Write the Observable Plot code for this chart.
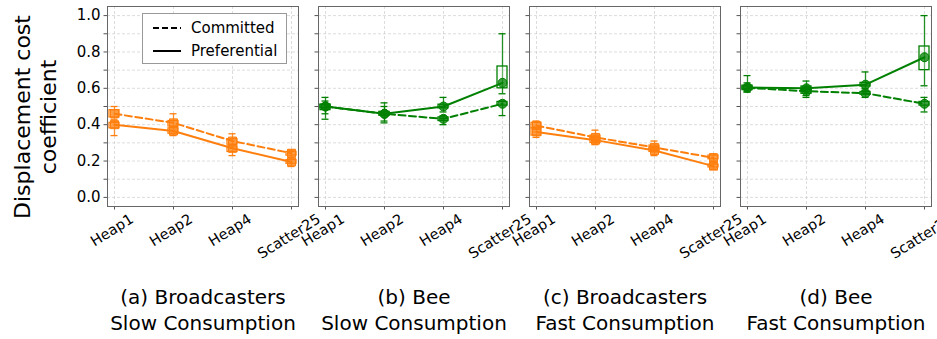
<!DOCTYPE html>
<html><head><meta charset="utf-8">
<script src="https://cdn.jsdelivr.net/npm/d3@7"></script>
<script src="https://cdn.jsdelivr.net/npm/@observablehq/plot@0.6"></script>
<style>
body{margin:0;background:#fff;font-family:"DejaVu Sans",sans-serif;}
#wrap{position:relative;width:937px;height:339px;overflow:hidden;}
#legend{position:absolute;left:142px;top:13px;width:143px;height:49px;border:1px solid #999;background:#fff;font-size:15px;color:#000;}
#legend .row{position:absolute;left:10px;height:20px;display:flex;align-items:center;}
#legend svg{margin-right:10px;}
#ylabel{position:absolute;left:36px;top:117px;transform:translate(-50%,-50%) rotate(-90deg);white-space:pre;text-align:center;font-size:22px;line-height:26px;color:#000;}
</style></head><body><div id="wrap"></div>
<script>
const panels = ["a", "b", "c", "d"];
const panelTitles = [
  "(a) Broadcasters\nSlow Consumption",
  "(b) Bee\nSlow Consumption",
  "(c) Broadcasters\nFast Consumption",
  "(d) Bee\nFast Consumption"
];
const panelGroups = ["Broadcasters", "Bee", "Broadcasters", "Bee"];
const categories = ["Heap1", "Heap2", "Heap4", "Scatter25"];
const series = ["Committed", "Preferential"];
const yTitle = "Displacement cost\ncoefficient";
const yTickLabels = [0.0, 0.2, 0.4, 0.6, 0.8, 1.0];
const yMinorTicks = [0.0, 0.1, 0.2, 0.3, 0.4, 0.5, 0.6, 0.7, 0.8, 0.9, 1.0];

// [panel][category]
const committedMed = [[0.46, 0.41, 0.31, 0.243], [0.50, 0.46, 0.432, 0.515], [0.395, 0.33, 0.275, 0.218], [0.603, 0.584, 0.573, 0.515]];
const committedQ1  = [[0.44, 0.39, 0.29, 0.23],  [0.48, 0.45, 0.42, 0.505],  [0.38, 0.32, 0.26, 0.21],    [0.59, 0.57, 0.565, 0.505]];
const committedQ3  = [[0.48, 0.42, 0.32, 0.25],  [0.51, 0.47, 0.44, 0.525],  [0.41, 0.34, 0.285, 0.23],   [0.61, 0.595, 0.58, 0.525]];
const committedLo  = [[0.43, 0.37, 0.27, 0.22],  [0.46, 0.41, 0.40, 0.45],   [0.36, 0.30, 0.25, 0.20],    [0.58, 0.55, 0.55, 0.47]];
const committedHi  = [[0.50, 0.46, 0.35, 0.26],  [0.53, 0.50, 0.45, 0.53],   [0.42, 0.37, 0.31, 0.24],    [0.63, 0.61, 0.59, 0.55]];

const preferentialMed = [[0.40, 0.365, 0.27, 0.195], [0.50, 0.46, 0.50, 0.63], [0.36, 0.315, 0.258, 0.172], [0.605, 0.60, 0.62, 0.771]];
const preferentialQ1  = [[0.38, 0.35, 0.25, 0.185],  [0.49, 0.45, 0.49, 0.60], [0.34, 0.30, 0.25, 0.165],   [0.595, 0.59, 0.61, 0.70]];
const preferentialQ3  = [[0.41, 0.38, 0.28, 0.205],  [0.51, 0.47, 0.51, 0.72], [0.38, 0.325, 0.27, 0.18],   [0.615, 0.61, 0.63, 0.83]];
const preferentialLo  = [[0.34, 0.34, 0.23, 0.17],   [0.43, 0.42, 0.47, 0.57], [0.33, 0.29, 0.23, 0.155],   [0.58, 0.56, 0.60, 0.614]];
const preferentialHi  = [[0.42, 0.39, 0.29, 0.21],   [0.55, 0.52, 0.55, 0.90], [0.39, 0.33, 0.28, 0.19],    [0.67, 0.64, 0.69, 1.00]];

const stats = {
  Committed: [committedMed, committedQ1, committedQ3, committedLo, committedHi],
  Preferential: [preferentialMed, preferentialQ1, preferentialQ3, preferentialLo, preferentialHi]
};
const rows = [];
panels.forEach((p, pi) => categories.forEach((c, ci) => series.forEach(s => {
  const [m, q1, q3, lo, hi] = stats[s];
  rows.push({panel: p, group: panelGroups[pi], category: c, series: s,
    med: m[pi][ci], q1: q1[pi][ci], q3: q3[pi][ci], lo: lo[pi][ci], hi: hi[pi][ci]});
})));
const labelRows = panels.flatMap(p => categories.map(c => ({panel: p, category: c})));

// matplotlib-like centered rotated tick labels: top of rotated bbox just under the axis
const xFont = 14.5;
const xAngle = 32;
const ctx = document.createElement("canvas").getContext("2d");
ctx.font = `${xFont}px 'DejaVu Sans'`;
const ang = xAngle * Math.PI / 180;
const xLabelMarks = categories.map(c => {
  const w = ctx.measureText(c).width;
  const H = w * Math.sin(ang) + xFont * 1.17 * Math.cos(ang);
  return Plot.text(labelRows.filter(d => d.category === c), {
    fx: "panel", x: "category", text: "category", frameAnchor: "bottom",
    rotate: -xAngle, dy: 8 + H / 2, fontSize: xFont, fill: "#000"
  });
});

const chart = Plot.plot({
  width: 937, height: 339,
  marginLeft: 105, marginRight: 4, marginTop: 6, marginBottom: 133,
  style: {fontFamily: "DejaVu Sans", fontSize: "15px", color: "#000", background: "#fff", overflow: "visible"},
  fx: {domain: panels, padding: 0.094, axis: null},
  x: {type: "point", domain: categories, padding: 0.1, axis: null},
  y: {domain: [-0.05, 1.05], axis: null},
  color: {domain: ["Broadcasters", "Bee"], range: ["#ff7f0e", "#008000"]},
  symbol: {domain: ["Broadcasters", "Bee"], range: ["square", "circle"]},
  marks: [
    Plot.gridY(yMinorTicks, {stroke: "#bbb", strokeOpacity: 0.5, strokeDasharray: "3,2"}),
    Plot.gridX(categories, {stroke: "#bbb", strokeOpacity: 0.5, strokeDasharray: "3,2"}),
    Plot.axisY(yMinorTicks, {tickFormat: () => "", tickSize: 3.5, facetAnchor: null, stroke: "#555", label: null}),
    Plot.axisY(yTickLabels, {tickFormat: d3.format(".1f"), tickSize: 0, tickPadding: 7, fontSize: 15, label: null, fill: "#000"}),
    Plot.axisX(categories, {tickFormat: () => "", tickSize: 3.5, facetAnchor: null, stroke: "#555", label: null}),
    Plot.frame({stroke: "#666", strokeWidth: 1}),
    // whiskers and caps
    Plot.ruleX(rows, {fx: "panel", x: "category", y1: "lo", y2: "hi", stroke: "group", strokeWidth: 1.3, strokeOpacity: 0.85}),
    Plot.ruleY(rows, {fx: "panel", x1: "category", x2: "category", y: "lo", stroke: "group", strokeWidth: 1.3, insetLeft: -3.5, insetRight: -3.5}),
    Plot.ruleY(rows, {fx: "panel", x1: "category", x2: "category", y: "hi", stroke: "group", strokeWidth: 1.3, insetLeft: -3.5, insetRight: -3.5}),
    // boxes
    Plot.rect(rows, {fx: "panel", x1: "category", x2: "category", y1: "q1", y2: "q3", stroke: "group", fill: "white", fillOpacity: 0.3, strokeWidth: 1.3, insetLeft: -5, insetRight: -5}),
    // lines
    Plot.line(rows.filter(d => d.series === "Committed"), {fx: "panel", x: "category", y: "med", z: "panel", stroke: "group", strokeWidth: 2, strokeDasharray: "7,3.5"}),
    Plot.line(rows.filter(d => d.series === "Preferential"), {fx: "panel", x: "category", y: "med", z: "panel", stroke: "group", strokeWidth: 2}),
    // medians
    Plot.dot(rows, {fx: "panel", x: "category", y: "med", symbol: "group", r: 4.5, fill: "group", fillOpacity: 0.75, stroke: "group", strokeWidth: 1}),
    // subtitles
    Plot.text(panels, {fx: d => d, text: (d, i) => panelTitles[i], frameAnchor: "bottom", dy: 123, fontSize: 20, lineHeight: 1.3, fill: "#000"}),
    ...xLabelMarks
  ]
});
const wrap = document.getElementById("wrap");
wrap.appendChild(chart);

const yl = document.createElement("div");
yl.id = "ylabel";
yl.textContent = yTitle;
wrap.appendChild(yl);

const legend = document.createElement("div");
legend.id = "legend";
legend.innerHTML = series.map((s, i) => `<div class="row" style="top:${4 + i * 23}px"><svg width="28" height="6"><line x1="0" y1="3" x2="28" y2="3" stroke="#000" stroke-width="2" ${s === "Committed" ? 'stroke-dasharray="6,3"' : ''}/></svg><span>${s}</span></div>`).join("");
wrap.appendChild(legend);
</script>
</body></html>
